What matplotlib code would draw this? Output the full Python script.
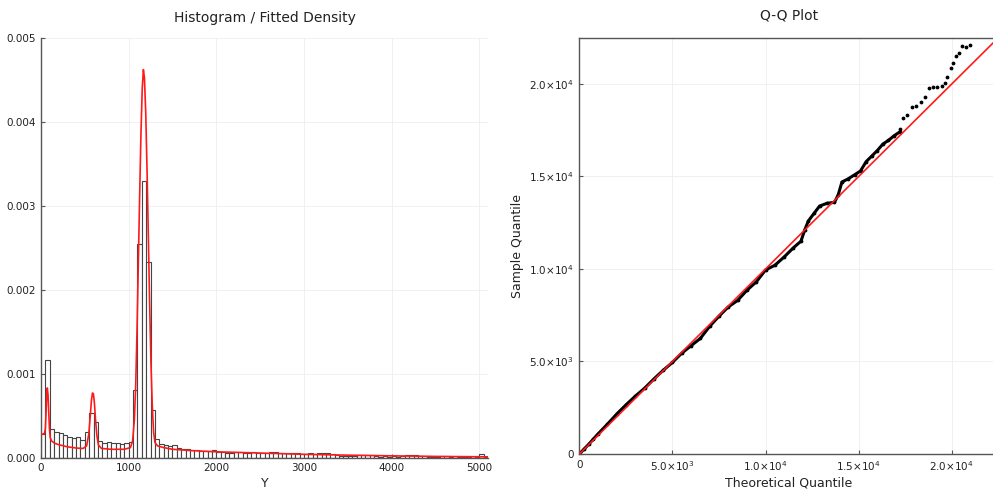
import numpy as np
import matplotlib

matplotlib.use("Agg")
import matplotlib.pyplot as plt

# ---- histogram data (bin width 50, starting at 0) ----
bin_width = 50
hist_density = [
    0.00028, 0.00116, 0.00034, 0.00031, 0.00029, 0.00027, 0.00025, 0.00023, 0.00025, 0.00021,
    0.00030, 0.00053, 0.00042, 0.00020, 0.00018, 0.00019, 0.00018, 0.00018, 0.00016, 0.00017,
    0.00019, 0.00080, 0.00254, 0.00329, 0.00233, 0.00057, 0.00022, 0.00016, 0.00015, 0.00014,
    0.00015, 0.00011, 0.00010, 0.00010, 0.00009, 0.00009, 0.00008, 0.00008, 0.00008, 0.00009,
    0.00007, 0.00007, 0.00006, 0.00006, 0.00007, 0.00007, 0.00006, 0.00006, 0.00007, 0.00006,
    0.00005, 0.00006, 0.00007, 0.00007, 0.00006, 0.00005, 0.00006, 0.00006, 0.00005, 0.00004,
    0.00004, 0.00005, 0.00004, 0.00005, 0.00006, 0.00005, 0.00004, 0.00003, 0.00002, 0.00002,
    0.00002, 0.00002, 0.00003, 0.00003, 0.00003, 0.00003, 0.00002, 0.00001, 0.00002, 0.00001,
    0.00002, 0.00001, 0.00002, 0.00003, 0.00003, 0.00003, 0.00002, 0.00002, 0.00001, 0.00001,
    0.00001, 0.00002, 0.00002, 0.00001, 0.00000, 0.00001, 0.00001, 0.00001, 0.00000, 0.00001,
    0.00004, 0.00001,
]
bin_left = np.arange(len(hist_density)) * bin_width

# ---- fitted density curve ----
dens_x = [
    0, 20, 40, 50, 58, 65, 72, 80, 88, 96, 105, 120, 150, 200, 300, 400, 480, 520, 545,
    562, 575, 587, 598, 610, 622, 638, 655, 690, 800, 950, 1020, 1045, 1065, 1080, 1095,
    1110, 1125, 1140, 1155, 1168, 1180, 1195, 1210, 1225, 1240, 1255, 1270, 1285, 1300,
    1330, 1400, 1500, 1700, 2000, 2500, 3000, 3500, 4000, 4500, 5100,
]
dens_y = [
    0.00028, 0.00028, 0.00029, 0.00035, 0.00055, 0.00075, 0.00083, 0.00075, 0.00055, 0.00035,
    0.00024, 0.00020, 0.000175, 0.000155, 0.00013, 0.000115, 0.00011, 0.00014, 0.00028,
    0.00050, 0.00068, 0.00077, 0.00076, 0.00064, 0.00045, 0.00026, 0.00015, 0.00011, 0.00010,
    0.00010, 0.00012, 0.00020, 0.00045, 0.00085, 0.00150, 0.00230, 0.00310, 0.00385, 0.00440,
    0.00462, 0.00452, 0.00410, 0.00340, 0.00260, 0.00180, 0.00110, 0.00060, 0.00030, 0.00018,
    0.00014, 0.00012, 0.00010, 0.000085, 0.00007, 0.000055, 0.00004, 0.00003, 0.000022,
    0.000015, 0.00001,
]

# ---- Q-Q plot data ----
theo_q = [
    0, 250, 500, 750, 1000, 1500, 2000, 2500, 3000, 3500, 4000, 4500, 5000, 5500, 6000,
    6500, 7000, 7500, 8000, 8500, 9000, 9500, 10000, 10500, 11000, 11500, 11900, 12100,
    12300, 12600, 12900, 13300, 13700, 13900, 14100, 14400, 14800, 15100, 15400, 15700,
    16000, 16300, 16600, 16900, 17200,
]
samp_q = [
    0, 260, 520, 800, 1080, 1600, 2150, 2650, 3120, 3550, 4050, 4520, 4950, 5450, 5850,
    6250, 6900, 7450, 7950, 8300, 8850, 9300, 9950, 10200, 10650, 11150, 11500, 12100,
    12600, 13000, 13400, 13550, 13600, 14000, 14700, 14850, 15100, 15300, 15800, 16100,
    16400, 16750, 16950, 17200, 17400,
]
theo_tail = [
    17225, 17402, 17617, 17853, 18084, 18336, 18567, 18798, 19013, 19228, 19464, 19642,
    19765, 19948, 20088, 20233, 20410, 20539, 20770, 20985,
]
samp_tail = [
    17550, 18144, 18323, 18739, 18809, 19042, 19313, 19767, 19819, 19819, 19890, 20036,
    20360, 20847, 21117, 21512, 21657, 22052, 22015, 22107,
]

hist_ticks = [0, 1000, 2000, 3000, 4000, 5000]
dens_ticks = [0, 0.001, 0.002, 0.003, 0.004, 0.005]
dens_ticklabels = ["0.000", "0.001", "0.002", "0.003", "0.004", "0.005"]
qq_ticks = [0, 5000, 10000, 15000, 20000]
qq_ticklabels = ["0", r"$5.0{\times}10^{3}$", r"$1.0{\times}10^{4}$",
                 r"$1.5{\times}10^{4}$", r"$2.0{\times}10^{4}$"]

spine_c = "#555555"
grid_c = "#eeeeee"

fig = plt.figure(figsize=(9.93, 4.99), dpi=100, facecolor="white")

########################################################################
# Histogram / fitted density

ax1 = fig.add_axes([0.0413, 0.0828, 0.4502, 0.8417])
ax1.bar(bin_left, hist_density, width=bin_width, align="edge",
        facecolor="white", edgecolor="#444444", linewidth=0.8, zorder=2)
ax1.plot(dens_x, dens_y, color="#ff1a1a", lw=1.2, zorder=3)

ax1.set_xlim(0, 5100)
ax1.set_ylim(0, 0.005)
ax1.set_xticks(hist_ticks)
ax1.set_yticks(dens_ticks)
ax1.set_yticklabels(dens_ticklabels)
ax1.set_title("Histogram / Fitted Density", fontsize=10, pad=11, color="#222222")
ax1.set_xlabel("Y", fontsize=9, labelpad=3, color="#222222")

ax1.spines["top"].set_visible(False)
ax1.spines["right"].set_visible(False)

########################################################################
# Q-Q plot (axes runs a little past the right edge, as in the original)

ax2 = fig.add_axes([0.5834, 0.0902, 0.4220, 0.8343])
ax2.plot(theo_q, samp_q, color="black", lw=2.2, zorder=2)
ax2.scatter(theo_q, samp_q, s=3, color="black", zorder=2)
ax2.scatter(theo_tail, samp_tail, s=3, color="black", zorder=2)
ax2.axline((0, 0), slope=1, color="#ff1a1a", lw=1.2, zorder=3)

ax2.set_xlim(0, 22500)
ax2.set_ylim(0, 22500)
ax2.set_xticks(qq_ticks)
ax2.set_xticklabels(qq_ticklabels)
ax2.set_yticks(qq_ticks)
ax2.set_yticklabels(qq_ticklabels)
ax2.set_title("Q-Q Plot", fontsize=10, pad=13, color="#222222")
ax2.set_xlabel("Theoretical Quantile", fontsize=9, labelpad=2, color="#222222")
ax2.set_ylabel("Sample Quantile", fontsize=9, labelpad=4, color="#222222")

for ax in (ax1, ax2):
    ax.grid(True, color=grid_c, lw=0.6, zorder=0)
    ax.set_axisbelow(True)
    ax.tick_params(direction="in", length=3, width=0.8, color=spine_c,
                   labelsize=7.5, labelcolor="#222222", pad=4)
    for s in ax.spines.values():
        s.set_color(spine_c)
        s.set_linewidth(1.0)

plt.savefig("out.png", dpi=100)
